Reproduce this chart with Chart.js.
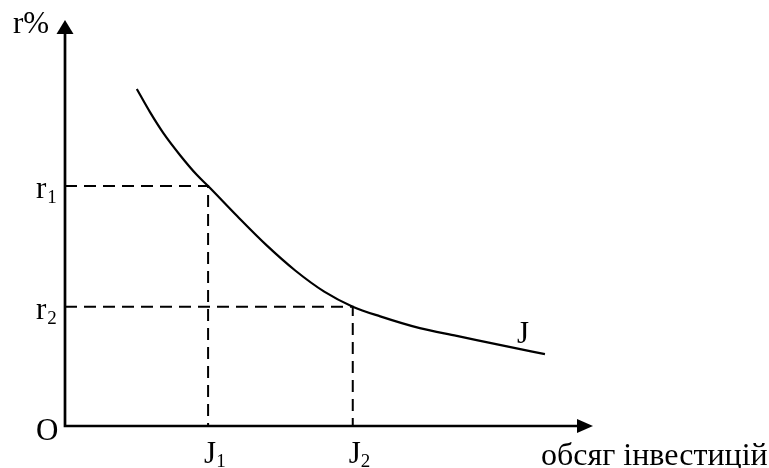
<!DOCTYPE html>
<html>
<head>
<meta charset="utf-8">
<script src="https://cdn.jsdelivr.net/npm/chart.js@4.4.1/dist/chart.umd.min.js"></script>
<style>
    body { margin: 0; background: #fff; }
    canvas { display: block; }
</style>
</head>
<body>
<canvas id="myChart" width="769" height="468"></canvas>
<script>
// investment demand curve J (x = обсяг інвестицій, y = r%)
let curveX = [1.36, 1.61, 1.86, 2.18, 2.50, 2.71, 3.26, 3.81, 4.36, 4.91, 5.45, 5.97, 6.72, 7.42, 8.37, 9.09];
let curveY = [8.30, 7.73, 7.22, 6.67, 6.18, 5.91, 5.17, 4.46, 3.83, 3.31, 2.94, 2.70, 2.41, 2.22, 1.96, 1.77];
// marked points on the curve
let jValues = [2.71, 5.45];
let rValues = [5.91, 2.94];
let jLabels = ['J', 'J'];
let rLabels = ['r', 'r'];
let subLabels = ['1', '2'];

let font = '"Liberation Serif", "Times New Roman", serif';

function dashedLine(j, r) {
    return [{ x: 0, y: r }, { x: j, y: r }, { x: j, y: 0 }];
}

let datasets = [{
    data: curveX.map((x, i) => ({ x: x, y: curveY[i] })),
    borderColor: '#000',
    borderWidth: 2.2,
    cubicInterpolationMode: 'monotone',
    pointRadius: 0,
    showLine: true
}];
for (let i = 0; i < jValues.length; i++) {
    datasets.push({
        data: dashedLine(jValues[i], rValues[i]),
        borderColor: '#000',
        borderWidth: 2,
        borderDash: [12, 7],
        tension: 0,
        pointRadius: 0,
        showLine: true
    });
}

// axes with arrows + all the text labels
let axesPlugin = {
    id: 'axes',
    afterDatasetsDraw(chart) {
        let ctx = chart.ctx;
        let xs = chart.scales.x;
        let ys = chart.scales.y;
        let ox = xs.getPixelForValue(0);
        let oy = ys.getPixelForValue(0);
        let top = chart.chartArea.top;
        let right = chart.chartArea.right;
        ctx.save();
        ctx.strokeStyle = '#000';
        ctx.fillStyle = '#000';
        ctx.lineWidth = 2.7;
        ctx.beginPath();
        ctx.moveTo(ox, top + 8);
        ctx.lineTo(ox, oy);
        ctx.lineTo(right - 8, oy);
        ctx.stroke();
        // arrow heads
        ctx.beginPath();
        ctx.moveTo(ox, top);
        ctx.lineTo(ox - 8.5, top + 14);
        ctx.lineTo(ox + 8.5, top + 14);
        ctx.closePath();
        ctx.fill();
        ctx.beginPath();
        ctx.moveTo(right, oy);
        ctx.lineTo(right - 16, oy - 7);
        ctx.lineTo(right - 16, oy + 7);
        ctx.closePath();
        ctx.fill();

        ctx.textBaseline = 'alphabetic';
        ctx.textAlign = 'left';
        ctx.font = '31px ' + font;
        ctx.fillText('r%', ox - 52, top + 13);
        ctx.fillText('O', ox - 29, oy + 14);
        let lastX = xs.getPixelForValue(curveX[curveX.length - 1]);
        let lastY = ys.getPixelForValue(curveY[curveY.length - 1]);
        ctx.fillText('J', lastX - 28, lastY - 11);
        ctx.font = '32px ' + font;
        ctx.fillText('обсяг інвестицій', right - 52, oy + 39);

        for (let i = 0; i < jValues.length; i++) {
            let px = xs.getPixelForValue(jValues[i]);
            let py = ys.getPixelForValue(rValues[i]);
            ctx.font = '31px ' + font;
            let rw = ctx.measureText(rLabels[i]).width;
            ctx.fillText(rLabels[i], ox - 29, py + 12);
            ctx.fillText(jLabels[i], px - 4, oy + 37);
            let jw = ctx.measureText(jLabels[i]).width;
            ctx.font = '19px ' + font;
            ctx.fillText(subLabels[i], ox - 29 + rw + 1, py + 17);
            ctx.fillText(subLabels[i], px - 4 + jw, oy + 41);
        }
        ctx.restore();
    }
};

let chart = new Chart(document.getElementById('myChart').getContext('2d'), {
    type: 'scatter',
    data: { datasets: datasets },
    options: {
        responsive: false,
        animation: false,
        layout: { padding: { left: 65, right: 176, top: 20, bottom: 42 } },
        plugins: { legend: { display: false }, tooltip: { enabled: false } },
        scales: {
            x: { type: 'linear', min: 0, max: 10, display: false },
            y: { type: 'linear', min: 0, max: 10, display: false }
        }
    },
    plugins: [axesPlugin]
});
</script>
</body>
</html>
